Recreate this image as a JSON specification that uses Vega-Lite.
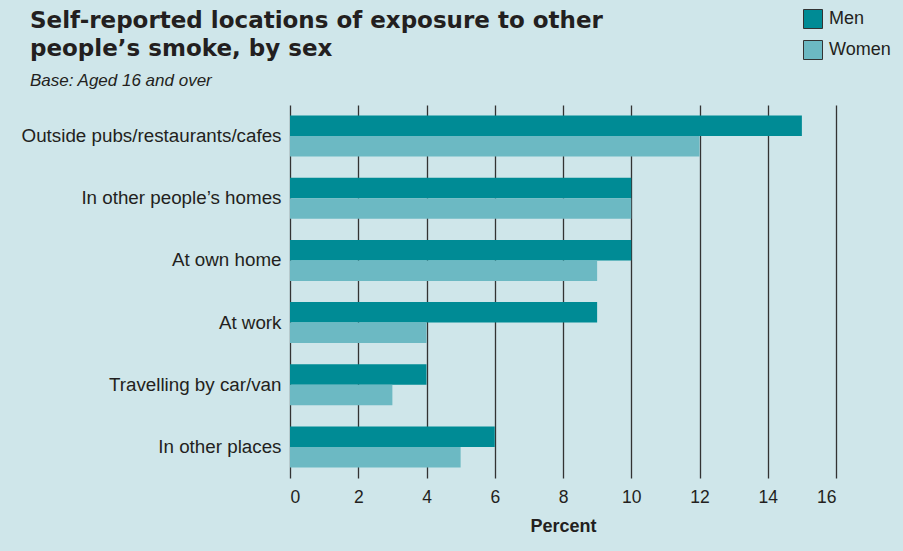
{
  "$schema": "https://vega.github.io/schema/vega-lite/v6.json",
  "width": 546,
  "height": 373,
  "autosize": {"type": "none"},
  "padding": {"left": 290, "top": 105, "right": 67, "bottom": 73},
  "background": "#cfe6ea",
  "title": {
    "text": ["Self-reported locations of exposure to other", "people’s smoke, by sex"],
    "subtitle": "Base: Aged 16 and over",
    "anchor": "start",
    "frame": "group",
    "dx": -260,
    "dy": 93,
    "offset": 13,
    "font": "DejaVu Sans",
    "fontSize": 23,
    "fontWeight": "bold",
    "lineHeight": 28,
    "color": "#231f20",
    "subtitleFont": "Liberation Sans",
    "subtitleFontSize": 17,
    "subtitleFontStyle": "italic",
    "subtitleColor": "#231f20",
    "subtitlePadding": 12
  },
  "data": {
    "values": [
      {"location": "Outside pubs/restaurants/cafes", "sex": "Men", "percent": 15},
      {"location": "Outside pubs/restaurants/cafes", "sex": "Women", "percent": 12},
      {"location": "In other people’s homes", "sex": "Men", "percent": 10},
      {"location": "In other people’s homes", "sex": "Women", "percent": 10},
      {"location": "At own home", "sex": "Men", "percent": 10},
      {"location": "At own home", "sex": "Women", "percent": 9},
      {"location": "At work", "sex": "Men", "percent": 9},
      {"location": "At work", "sex": "Women", "percent": 4},
      {"location": "Travelling by car/van", "sex": "Men", "percent": 4},
      {"location": "Travelling by car/van", "sex": "Women", "percent": 3},
      {"location": "In other places", "sex": "Men", "percent": 6},
      {"location": "In other places", "sex": "Women", "percent": 5}
    ]
  },
  "mark": {"type": "bar"},
  "encoding": {
    "y": {
      "field": "location",
      "type": "nominal",
      "sort": ["Outside pubs/restaurants/cafes", "In other people’s homes", "At own home", "At work", "Travelling by car/van", "In other places"],
      "scale": {"paddingInner": 0.34, "paddingOuter": 0.17},
      "axis": {
        "title": null,
        "domain": false,
        "ticks": false,
        "grid": false,
        "labelFont": "Liberation Sans",
        "labelFontSize": 18.8,
        "labelColor": "#231f20",
        "labelPadding": 9,
        "labelLimit": 300
      }
    },
    "yOffset": {"field": "sex", "type": "nominal", "sort": ["Men", "Women"], "scale": {"paddingInner": 0, "paddingOuter": 0}},
    "x": {
      "field": "percent",
      "type": "quantitative",
      "scale": {"domain": [0, 16], "nice": false},
      "axis": {
        "title": "Percent",
        "titleFont": "Liberation Sans",
        "titleFontSize": 18,
        "titleFontWeight": "bold",
        "titleColor": "#231f20",
        "titlePadding": 12,
        "values": [0, 2, 4, 6, 8, 10, 12, 14, 16],
        "domain": false,
        "ticks": false,
        "grid": true,
        "gridColor": "#333333",
        "gridWidth": 1.3,
        "labelFont": "Liberation Sans",
        "labelFontSize": 17.5,
        "labelColor": "#231f20",
        "labelPadding": 10
      }
    },
    "color": {
      "field": "sex",
      "type": "nominal",
      "scale": {"domain": ["Men", "Women"], "range": ["#008b95", "#6cb9c3"]},
      "legend": {
        "title": null,
        "orient": "none",
        "legendX": 513,
        "legendY": -96,
        "symbolType": "square",
        "symbolSize": 361,
        "symbolStrokeColor": "#333333",
        "symbolStrokeWidth": 1,
        "symbolOpacity": 1,
        "rowPadding": 7,
        "labelFont": "Liberation Sans",
        "labelFontSize": 18,
        "labelColor": "#231f20",
        "labelOffset": 6
      }
    }
  },
  "config": {"view": {"stroke": null}}
}
